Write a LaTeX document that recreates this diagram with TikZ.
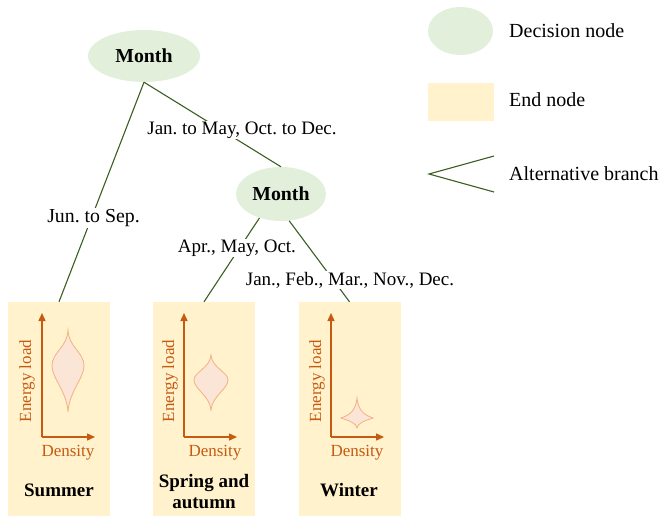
\documentclass[tikz,border=0pt]{standalone}
\usepackage{fontspec}
\setmainfont{Liberation Serif}
\usetikzlibrary{arrows.meta,shapes.geometric}
\definecolor{decfill}{HTML}{E2EFDA}
\definecolor{endfill}{HTML}{FFF2CC}
\definecolor{branch}{HTML}{3B5E22}
\definecolor{axis}{HTML}{C55A11}
\definecolor{violinfill}{HTML}{FBE5D6}
\definecolor{violinedge}{HTML}{F4B183}
\frenchspacing
\tikzset{
  decnode/.style={ellipse, fill=decfill, inner sep=0pt, font=\fontsize{19.8}{23}\selectfont\bfseries},
  endnode/.style={rectangle, fill=endfill, inner sep=0pt, minimum width=102pt, minimum height=214pt},
  branchline/.style={draw=branch, line width=1.1pt},
  lbl/.style={fill=white, inner sep=1pt, font=\fontsize{19}{23}\selectfont},
  legtext/.style={anchor=west, inner sep=0pt, font=\fontsize{20}{23}\selectfont},
  axisarrow/.style={draw=axis, line width=1.4pt, -{Triangle[length=8pt,width=7pt]}},
  axlbl/.style={text=axis, inner sep=0pt, font=\fontsize{17}{20}\selectfont},
  endlbl/.style={align=center, inner sep=0pt, font=\fontsize{19}{23}\selectfont\bfseries},
  violin/.style={fill=violinfill, draw=violinedge, line width=0.8pt}
}
\begin{document}
\begin{tikzpicture}[x=1pt,y=-1pt]
\useasboundingbox (0,0) rectangle (662,517);

% decision nodes
\node[decnode, minimum width=112pt, minimum height=52pt] (m1) at (144,56) {Month};
\node[decnode, minimum width=90pt, minimum height=54pt] (m2) at (281,194) {Month};

% end nodes
\node[endnode] (summer) at (59,409) {};
\node[endnode] (spring) at (204,409) {};
\node[endnode] (winter) at (349.5,409) {};

% branches
\draw[branchline] (m1.south) -- (summer.north);
\draw[branchline] (m1.south) -- (m2.north);
\draw[branchline] (m2.228) -- (spring.north);
\draw[branchline] (m2.287) -- (winter.north);

% branch labels
\node[lbl, font=\fontsize{19.8}{23}\selectfont] (lj) at (93.5,218) {Jun. to Sep.};
\node[lbl] (lo) at (242,130) {Jan. to May, Oct. to Dec.};
\node[lbl] (la) at (237,248) {Apr., May, Oct.};
\node[lbl] (lw) at (350,280) {Jan., Feb., Mar., Nov., Dec.};

% summer content
\coordinate (o1) at (42,437);
\draw[axisarrow] (o1) -- ++(0,-124);
\draw[axisarrow] (o1) -- ++(53,0);
\node[axlbl, rotate=90] (e1) at (27,381) {Energy load};
\node[axlbl] (d1) at (68,453) {Density};
\draw[violin] (68,330) .. controls (69,348) and (84,352) .. (84,366)
  .. controls (84,378) and (69,392) .. (68,412)
  .. controls (67,392) and (52,378) .. (52,366)
  .. controls (52,352) and (67,348) .. (68,330) -- cycle;
\node[endlbl] (t1) at (59,490) {Summer};

% spring content
\coordinate (o2) at (184,437);
\draw[axisarrow] (o2) -- ++(0,-124);
\draw[axisarrow] (o2) -- ++(53,0);
\node[axlbl, rotate=90] (e2) at (170,381) {Energy load};
\node[axlbl] (d2) at (215,453) {Density};
\draw[violin] (211,355) .. controls (212,368) and (228,372) .. (228,380)
  .. controls (228,389) and (212,396) .. (211,410)
  .. controls (210,396) and (194,389) .. (194,380)
  .. controls (194,372) and (210,368) .. (211,355) -- cycle;
\node[endlbl] (t2) at (204,492) {Spring and\\[-2pt]autumn};

% winter content
\coordinate (o3) at (331,437);
\draw[axisarrow] (o3) -- ++(0,-124);
\draw[axisarrow] (o3) -- ++(53,0);
\node[axlbl, rotate=90] (e3) at (317,381) {Energy load};
\node[axlbl] (d3) at (357,453) {Density};
\draw[violin] (357,398) .. controls (358,410) and (364,415) .. (373,418)
  .. controls (364,421) and (358,423) .. (357,428)
  .. controls (356,423) and (350,421) .. (341,418)
  .. controls (350,415) and (356,410) .. (357,398) -- cycle;
\node[endlbl] (t3) at (349,490) {Winter};

% legend
\node[ellipse, fill=decfill, minimum width=65pt, minimum height=48pt, inner sep=0pt] (legdec) at (460.5,31) {};
\node[legtext] (legdect) at (509,31) {Decision node};
\node[rectangle, fill=endfill, minimum width=66pt, minimum height=38pt, inner sep=0pt] (legend) at (461,102) {};
\node[legtext] (legendt) at (509,100) {End node};
\coordinate (ba) at (429,174);
\coordinate (bt) at (494,156);
\coordinate (bb) at (494,192);
\draw[branchline] (bt) -- (ba) -- (bb);
\node[legtext] (legbt) at (509,174) {Alternative branch};
\end{tikzpicture}
\end{document}
